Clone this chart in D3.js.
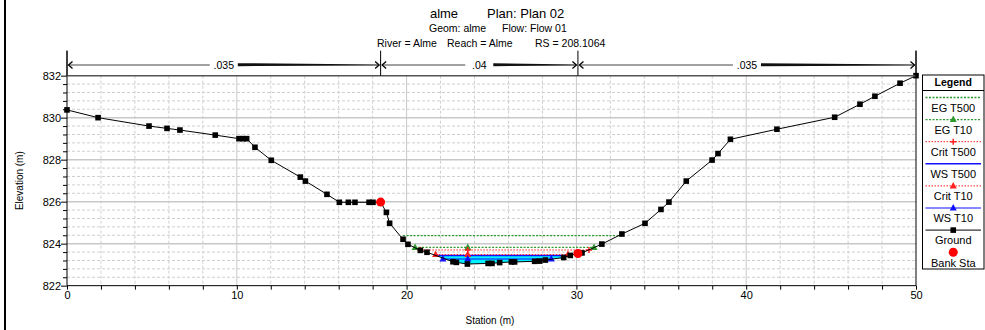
<!DOCTYPE html>
<html><head><meta charset="utf-8">
<script src="https://cdn.jsdelivr.net/npm/d3@7"></script>
<style>
html,body{margin:0;padding:0;background:#fff;}
text{font-family:"Liberation Sans",Arial,sans-serif;fill:#000;}
</style></head>
<body>
<svg id="chart" width="985" height="330"></svg>
<script>
// ---- data ----
const groundSta = [0,1.83,4.83,5.89,6.65,8.73,10.13,10.37,10.58,11.07,12.03,13.74,14.04,15.31,16.04,16.57,16.96,17.79,18.02,18.47,18.81,19.0,19.79,20.08,20.81,21.2,22.73,22.93,23.58,24.8,25.03,25.48,26.17,26.36,27.54,27.84,28.17,29.25,29.64,30.09,30.33,31.5,32.68,34.04,34.98,35.45,36.47,37.99,38.34,39.07,41.81,45.21,46.7,47.58,49.06,50];
const groundElev = [830.37,830.0,829.6,829.49,829.41,829.17,829.0,829.0,829.0,828.59,827.97,827.17,826.98,826.35,825.97,825.97,825.97,825.97,825.97,825.98,825.49,824.97,824.21,823.97,823.68,823.59,823.14,823.11,823.03,823.06,823.06,823.1,823.13,823.13,823.16,823.17,823.22,823.34,823.44,823.53,823.56,823.98,824.46,824.97,825.63,825.98,826.98,827.98,828.29,828.97,829.45,830.02,830.64,831.02,831.64,832.0];
const bankSta = [18.47, 30.09];
const bankElev = [825.98, 823.53];
const nBreaks = [0, 18.47, 30.09, 50];
const nValues = [".035", ".04", ".035"];
// profiles: name, elevation, stations (ends + marker)
const profileNames = ["EG T500","EG T10","Crit T500","WS T500","Crit T10","WS T10"];
const profileElev  = [824.38, 823.82, 823.70, 823.44, 823.48, 823.27];
const profileSta   = [[19.79,32.65],[20.5,23.6,31.04],[20.81,23.6,30.74],[21.74,29.55],[21.71,23.6,29.5],[22.14,23.6,28.52]];
const legendNames = ["EG T500","EG T10","Crit T500","WS T500","Crit T10","WS T10","Ground","Bank Sta"];
const xTicks = d3.range(0, 50.001, 2);
const xLabels = [0,10,20,30,40,50];
const yTicks = d3.range(822, 832.001, 0.4).map(v=>+v.toFixed(1));
const yLabels = [822,824,826,828,830,832];

// ---- styles ----
const styles = {
  "EG T500":  {color:"#2e9a2e", dash:"2,1.5", width:1.3, marker:null},
  "EG T10":   {color:"#2e9a2e", dash:"2,1.5", width:1.3, marker:"tri"},
  "Crit T500":{color:"#ff2020", dash:"1.5,1.5", width:1, marker:"plus"},
  "WS T500":  {color:"#1010ff", dash:null, width:1.5, marker:null},
  "Crit T10": {color:"#ff2020", dash:"1.5,1.5", width:1, marker:"tri"},
  "WS T10":   {color:"#1010ff", dash:null, width:1.2, marker:"tri"},
  "Ground":   {color:"#000", dash:null, width:1, marker:"sq"},
  "Bank Sta": {color:"#ff0000", dash:null, width:0, marker:"circ"}
};

const svg = d3.select("#chart");
const L=67, R=916, T=75.67, B=285.67;
const x = d3.scaleLinear([0,50],[L,R]);
const y = d3.scaleLinear([822,832],[B,T]);

// outer left frame
svg.append("line").attr("x1",5).attr("x2",5).attr("y1",0).attr("y2",330).attr("stroke","#000").attr("stroke-width",2);

// titles
const t1 = svg.append("g");
t1.append("text").attr("x",444).attr("y",18).attr("text-anchor","middle").attr("font-size",13).text("alme");
t1.append("text").attr("x",487).attr("y",18).attr("font-size",13).text("Plan: Plan 02");
t1.append("text").attr("x",429).attr("y",32).attr("font-size",10.5).text("Geom: alme");
t1.append("text").attr("x",502).attr("y",32).attr("font-size",10.5).text("Flow: Flow 01");
t1.append("text").attr("x",377).attr("y",47).attr("font-size",10.5).text("River = Alme");
t1.append("text").attr("x",447).attr("y",47).attr("font-size",10.5).text("Reach = Alme");
t1.append("text").attr("x",535).attr("y",47).attr("font-size",10.5).text("RS = 208.1064");

// grid
const grid = svg.append("g");
xTicks.forEach(v=>{
  const major = v%10===0;
  if (v===0||v===50) return;
  grid.append("line").attr("x1",x(v)).attr("x2",x(v)).attr("y1",T).attr("y2",B)
    .attr("stroke", major?"#c8c8c8":"#cfcfcf").attr("stroke-width",1)
    .attr("stroke-dasharray", major?null:"3,2");
});
yTicks.forEach(v=>{
  const major = Math.abs(v - Math.round(v))<1e-6 && Math.round(v)%2===0;
  if (v===822||v===832) return;
  grid.append("line").attr("x1",L).attr("x2",R).attr("y1",y(v)).attr("y2",y(v))
    .attr("stroke", major?"#c8c8c8":"#cfcfcf").attr("stroke-width", major?1.5:1)
    .attr("stroke-dasharray", major?null:"3,2");
});

// water fill (WS T500 to ground)
const wsIdx = profileNames.indexOf("WS T500");
const wsE = profileElev[wsIdx], wsL = profileSta[wsIdx][0], wsR = profileSta[wsIdx][profileSta[wsIdx].length-1];
const fillPts = [[wsL, wsE],[wsR, wsE]];
for (let i=groundSta.length-1;i>=0;i--) if (groundSta[i]>wsL && groundSta[i]<wsR) fillPts.push([groundSta[i], groundElev[i]]);
svg.append("path").attr("d", d3.line().x(d=>x(d[0])).y(d=>y(d[1]))(fillPts)+"Z").attr("fill","#00f0ff");

// marker drawing helper
function drawMarker(g, type, cx, cy, color){
  if (type==="tri") g.append("path").attr("d",`M${cx},${cy-4}L${cx+3.5},${cy+2.5}L${cx-3.5},${cy+2.5}Z`).attr("fill",color);
  else if (type==="plus") g.append("path").attr("d",`M${cx-3},${cy}H${cx+3}M${cx},${cy-3}V${cy+3}`).attr("stroke",color).attr("stroke-width",1.5);
  else if (type==="sq") g.append("rect").attr("x",cx-2.8).attr("y",cy-2.8).attr("width",5.6).attr("height",5.6).attr("fill",color);
  else if (type==="circ") g.append("circle").attr("cx",cx).attr("cy",cy).attr("r",4.5).attr("fill",color);
}

// profiles
const pg = svg.append("g");
profileNames.forEach((n,i)=>{
  const st = styles[n];
  const pts = profileSta[i].map(s=>[s, profileElev[i]]);
  pg.append("path").attr("d", d3.line().x(d=>x(d[0])).y(d=>y(d[1]))(pts))
    .attr("fill","none").attr("stroke",st.color).attr("stroke-width",st.width)
    .attr("stroke-dasharray",st.dash);
});
profileNames.forEach((n,i)=>{
  const st = styles[n];
  if (st.marker) profileSta[i].forEach(s=>drawMarker(pg, st.marker, x(s), y(profileElev[i]), st.color));
});

// ground
const gpts = groundSta.map((s,i)=>[s, groundElev[i]]);
svg.append("path").attr("d", d3.line().x(d=>x(d[0])).y(d=>y(d[1]))(gpts))
  .attr("fill","none").attr("stroke","#000").attr("stroke-width",1);
const gm = svg.append("g");
gpts.forEach(d=>drawMarker(gm,"sq",x(d[0]),y(d[1]),"#000"));
bankSta.forEach((s,i)=>drawMarker(gm,"circ",x(s),y(bankElev[i]),"#ff0000"));

// axes
const xAxis = d3.axisBottom(x).tickValues(xTicks).tickSize(4).tickPadding(2)
  .tickFormat(v=>xLabels.includes(v)?d3.format("d")(v):"");
const gx = svg.append("g").attr("transform",`translate(0,${B})`).call(xAxis);
gx.selectAll("text").attr("font-size",11).attr("font-family","Liberation Sans, Arial");
gx.select(".domain").attr("stroke","#000").attr("d",`M${L},0H${R}`);

const yAxis = d3.axisLeft(y).tickValues(yTicks).tickSize(4).tickPadding(2)
  .tickFormat(v=>yLabels.includes(Math.round(v*10)/10)?d3.format("d")(v):"");
const gy = svg.append("g").attr("transform",`translate(${L},0)`).call(yAxis);
gy.selectAll("text").attr("font-size",11).attr("font-family","Liberation Sans, Arial");
gy.selectAll(".tick").filter(v=>yLabels.includes(Math.round(v*10)/10)).select("line").attr("x2",-6);
gy.select(".domain").attr("stroke","#000").attr("d",`M0,${B}V${T-25}`);

// top frame line and right line
svg.append("line").attr("x1",L).attr("x2",R).attr("y1",T).attr("y2",T).attr("stroke","#555").attr("stroke-width",1.5);
svg.append("line").attr("x1",R).attr("x2",R).attr("y1",T-25).attr("y2",B).attr("stroke","#000").attr("stroke-width",1);

// axis titles
svg.append("text").attr("x",490).attr("y",324).attr("text-anchor","middle").attr("font-size",10).text("Station (m)");
svg.append("text").attr("transform",`translate(23,${(T+B)/2}) rotate(-90)`).attr("text-anchor","middle").attr("font-size",10).text("Elevation (m)");

// manning's n bar
const nb = svg.append("g");
const ny = 65;
nBreaks.forEach(b=>{
  nb.append("line").attr("x1",x(b)).attr("x2",x(b)).attr("y1",T-25).attr("y2",T).attr("stroke","#000").attr("stroke-width",1);
});
nValues.forEach((v,i)=>{
  const a = x(nBreaks[i])+1.5, b = x(nBreaks[i+1])-1.5, m = (a+b)/2;
  nb.append("line").attr("x1",a).attr("x2",m-14).attr("y1",ny).attr("y2",ny).attr("stroke","#444").attr("stroke-width",1);
  nb.append("path").attr("d",`M${m+14},${ny-1.8}L${b},${ny-0.5}L${b},${ny+0.5}L${m+14},${ny+1.2}Z`).attr("fill","#111");
  nb.append("path").attr("d",`M${a+4},${ny-3.5}L${a},${ny}L${a+4},${ny+3.5}`).attr("fill","none").attr("stroke","#000").attr("stroke-width",1.3);
  nb.append("path").attr("d",`M${b-4},${ny-3.5}L${b},${ny}L${b-4},${ny+3.5}`).attr("fill","none").attr("stroke","#000").attr("stroke-width",1.3);
  nb.append("text").attr("x",m).attr("y",ny+3.5).attr("text-anchor","middle").attr("font-size",10.5).text(v);
});

// legend
const lg = svg.append("g");
const lx0 = 922.5, lx1 = 984, ly0 = 75, ly1 = 269;
lg.append("rect").attr("x",lx0).attr("y",ly0).attr("width",lx1-lx0).attr("height",ly1-ly0).attr("fill","#fff").attr("stroke","#000").attr("stroke-width",1);
lg.append("line").attr("x1",lx0).attr("x2",lx1).attr("y1",90.5).attr("y2",90.5).attr("stroke","#000");
lg.append("text").attr("x",(lx0+lx1)/2).attr("y",86).attr("text-anchor","middle").attr("font-size",10.5).attr("font-weight","bold").text("Legend");
legendNames.forEach((n,i)=>{
  const st = styles[n];
  const ly = 97.5 + i*22.1;
  if (st.width>0) lg.append("line").attr("x1",lx0+3).attr("x2",lx1-3).attr("y1",ly).attr("y2",ly)
     .attr("stroke",st.color).attr("stroke-width",st.width).attr("stroke-dasharray",st.dash);
  if (st.marker) drawMarker(lg, st.marker, (lx0+lx1)/2, ly, st.color);
  lg.append("text").attr("x",(lx0+lx1)/2).attr("y",ly+14.3).attr("text-anchor","middle").attr("font-size",11).text(n);
});
</script>
</body></html>
